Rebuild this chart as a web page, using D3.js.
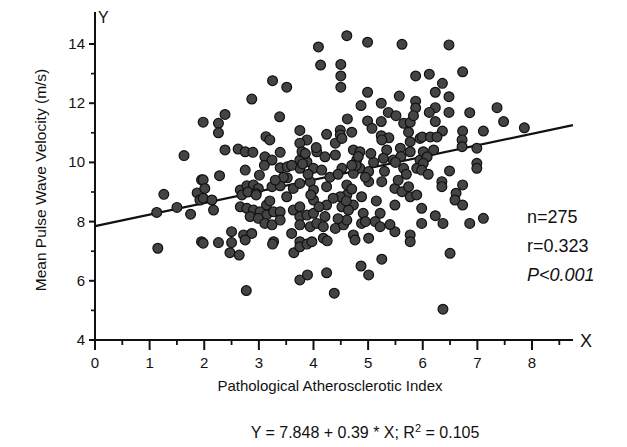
<!DOCTYPE html>
<html lang="en">
<head>
<meta charset="UTF-8">
<title>Mean Pulse Wave Velocity vs Pathological Atherosclerotic Index</title>
<script src="https://d3js.org/d3.v7.min.js"></script>
<style>
  body { margin: 0; background: #fff; }
  text { font-family: "Liberation Sans", Arial, Helvetica, sans-serif; fill: #111; }
</style>
</head>
<body>
<div id="chart"></div>
<script>
// data
const xValues = [1.98,3.25,3.51,2.87,2.38,2.26,2.26,3.38,3.75,3.13,3.88,4.61,4.09,4.99,5.62,4.13,4.50,4.50,4.50,5.87,
  4.99,5.57,4.87,5.24,5.87,5.87,5.37,5.51,5.65,5.77,5.83,4.62,4.99,5.07,5.24,4.24,4.49,4.49,4.70,5.74,
  5.24,5.38,5.95,6.48,6.12,6.73,6.36,6.23,6.48,6.23,6.12,6.48,6.86,7.36,7.48,7.86,6.23,6.36,6.73,7.11,
  5.99,6.14,6.26,6.72,1.63,1.26,1.13,1.50,1.75,1.95,1.87,1.92,1.95,1.15,1.98,3.20,3.75,2.38,2.62,2.75,
  2.89,3.39,3.11,3.24,3.39,3.52,3.75,3.79,3.75,3.88,2.75,3.01,3.52,2.28,1.98,2.01,1.98,2.14,2.17,2.66,
  2.78,2.90,2.99,2.69,3.24,3.39,3.51,3.63,3.75,3.94,3.14,2.66,2.78,2.90,3.02,3.14,3.27,3.39,2.84,2.99,
  3.11,3.24,3.39,3.63,3.75,3.75,3.88,3.75,3.94,2.50,2.72,2.87,3.27,3.75,4.06,4.00,4.15,4.40,4.52,4.40,
  4.21,4.73,4.85,4.79,4.85,4.73,4.52,5.01,5.01,5.25,5.25,5.34,5.28,5.46,5.59,5.77,5.77,5.95,5.89,5.65,
  4.00,4.00,4.24,4.61,4.61,4.49,4.36,4.88,4.24,4.52,4.73,4.64,4.91,5.22,5.49,5.62,5.74,5.77,5.89,5.49,
  5.98,4.00,4.21,4.06,4.18,4.40,4.55,4.61,4.88,5.13,5.22,5.49,5.98,4.18,4.73,5.01,5.77,5.77,6.72,6.99,
  6.01,6.20,6.08,6.01,5.98,6.99,6.99,6.49,6.35,6.35,6.73,6.61,6.59,6.73,6.23,6.37,6.86,7.11,2.26,2.50,
  2.75,2.47,2.64,3.25,3.64,3.75,3.88,3.97,3.75,3.89,2.77,4.25,4.76,4.24,4.38,4.87,5.01,5.25,6.50,6.37,
  4.78,4.82,4.70,2.80,2.95,3.85,3.90,3.80,4.30,4.45,5.10,5.30,5.55,5.15,3.45,3.60,3.20,4.70,4.95,5.60,
  5.70,4.10,3.95,3.10,4.45,4.95,5.40,3.60,2.95,5.05,4.05,5.50,6.10,3.30,4.60];
const yValues = [11.36,12.76,12.54,12.14,11.62,11.32,11.00,11.54,11.08,10.87,10.76,14.28,13.90,14.06,13.99,13.29,13.31,12.92,12.54,12.92,
  12.37,12.24,11.92,12.00,12.07,11.84,11.69,11.58,11.32,11.35,11.58,11.47,11.40,11.15,11.38,10.95,11.09,10.93,11.02,11.02,
  10.90,10.83,10.81,13.97,12.98,13.06,12.67,12.37,12.22,11.85,11.69,11.69,11.68,11.85,11.38,11.17,11.38,11.06,11.06,11.06,
  10.86,10.86,10.86,10.76,10.23,8.92,8.31,8.48,8.25,9.41,8.97,8.73,7.32,7.10,7.27,10.76,10.65,10.42,10.45,10.36,
  10.34,10.34,10.19,10.08,9.82,9.85,10.08,10.36,9.80,10.02,9.74,9.57,9.48,9.55,9.41,9.12,8.79,8.73,8.39,9.07,
  9.21,9.24,9.12,8.90,9.18,9.21,8.84,9.12,9.29,9.35,8.56,8.50,8.45,8.39,8.33,8.22,8.33,8.33,8.17,8.11,
  7.94,7.89,8.05,8.39,8.50,8.17,8.22,7.89,7.83,7.66,7.55,7.60,7.32,7.32,10.36,9.80,9.74,10.65,10.81,10.25,
  10.19,10.42,10.36,10.08,9.80,9.63,9.80,9.69,9.35,9.35,10.76,10.42,10.14,10.08,10.48,10.70,10.36,10.08,9.80,9.80,
  9.07,8.73,9.18,9.24,8.90,8.84,8.79,8.84,8.56,8.50,8.56,8.39,8.28,8.28,9.12,9.01,9.18,8.84,8.90,8.56,
  8.45,8.28,8.17,7.94,7.83,7.77,7.89,8.05,7.94,8.00,7.83,7.66,7.94,7.44,7.55,7.44,7.55,7.32,10.53,10.48,
  10.36,10.42,10.19,9.97,9.74,9.97,9.80,9.71,9.35,9.18,9.24,8.96,8.73,8.56,8.20,7.94,7.94,8.11,7.29,7.29,
  7.38,6.95,6.87,7.24,6.95,7.15,7.24,7.32,6.03,6.20,5.67,7.35,7.38,6.27,5.58,6.50,6.20,6.73,6.93,5.04,
  9.90,10.20,9.90,9.00,8.95,10.30,9.60,9.95,9.50,9.60,10.00,9.70,9.40,8.70,9.50,9.90,8.70,9.10,9.50,10.20,
  9.60,8.50,8.90,9.90,8.10,8.00,7.90,7.60,8.90,10.30,10.50,10.00,9.60,9.40,8.70];

const xTicks = [0,1,2,3,4,5,6,7,8];
const yTicks = [4,6,8,10,12,14];
const fitIntercept = 7.848;
const fitSlope = 0.39;
const statLines = ["n=275", "r=0.323", "P<0.001"];

const points = xValues.map((x, i) => ({ x: x, y: yValues[i] }));

const W = 627, H = 447;
const svg = d3.select("#chart").append("svg")
  .attr("width", W).attr("height", H);

const x = d3.scaleLinear().domain([0, 8]).range([95, 532]);
const y = d3.scaleLinear().domain([4, 14]).range([340, 44]);

// regression line
const xEnd = 8.75;
svg.append("line")
  .attr("x1", x(0)).attr("y1", y(fitIntercept))
  .attr("x2", x(xEnd)).attr("y2", y(fitIntercept + fitSlope * xEnd))
  .attr("stroke", "#111").attr("stroke-width", 2.2);

// dots
svg.selectAll(".dot")
  .data(points)
  .enter().append("circle")
  .attr("class", "dot")
  .attr("cx", d => x(d.x))
  .attr("cy", d => y(d.y))
  .attr("r", 4.9)
  .attr("fill", "#444")
  .attr("stroke", "#111")
  .attr("stroke-width", 1.2);

// x axis
const gx = svg.append("g").attr("transform", "translate(0," + y(4) + ")");
gx.append("line").attr("x1", x(0)).attr("x2", x(xEnd))
  .attr("stroke", "#111").attr("stroke-width", 2);
gx.selectAll(".minor").data(d3.range(0.5, 8.6, 1)).enter().append("line")
  .attr("x1", d => x(d)).attr("x2", d => x(d)).attr("y1", 0).attr("y2", 5)
  .attr("stroke", "#111").attr("stroke-width", 1.8);
gx.selectAll(".major").data(xTicks).enter().append("line")
  .attr("x1", d => x(d)).attr("x2", d => x(d)).attr("y1", 0).attr("y2", 10)
  .attr("stroke", "#111").attr("stroke-width", 2);
gx.selectAll(".lab").data(xTicks).enter().append("text")
  .attr("x", d => x(d)).attr("y", 28)
  .attr("text-anchor", "middle").style("font-size", "15px")
  .text(d => d);
gx.append("text").attr("x", x(xEnd) + 7).attr("y", 7)
  .style("font-size", "18px").text("X");

// y axis
const gy = svg.append("g").attr("transform", "translate(" + x(0) + ",0)");
gy.append("line").attr("y1", y(4)).attr("y2", 12)
  .attr("stroke", "#111").attr("stroke-width", 2);
gy.selectAll(".minor").data(d3.range(5, 14, 2)).enter().append("line")
  .attr("y1", d => y(d)).attr("y2", d => y(d)).attr("x1", 0).attr("x2", -4)
  .attr("stroke", "#111").attr("stroke-width", 1.6);
gy.selectAll(".major").data(yTicks).enter().append("line")
  .attr("y1", d => y(d)).attr("y2", d => y(d)).attr("x1", 0).attr("x2", -6)
  .attr("stroke", "#111").attr("stroke-width", 2);
gy.selectAll(".lab").data(yTicks).enter().append("text")
  .attr("x", -10).attr("y", d => y(d) + 5)
  .attr("text-anchor", "end").style("font-size", "15px")
  .text(d => d);
gy.append("text").attr("x", 3).attr("y", 23)
  .style("font-size", "16px").text("Y");

// axis titles
svg.append("text")
  .attr("transform", "translate(46,180) rotate(-90)")
  .attr("text-anchor", "middle").style("font-size", "15.5px")
  .text("Mean Pulse Wave Velocity (m/s)");
svg.append("text")
  .attr("x", 330).attr("y", 391)
  .attr("text-anchor", "middle").style("font-size", "15px")
  .text("Pathological Atherosclerotic Index");

// equation
const eq = svg.append("text")
  .attr("x", 365).attr("y", 438)
  .attr("text-anchor", "middle").style("font-size", "16px");
eq.append("tspan").text("Y = " + fitIntercept + " + " + fitSlope + " * X; R");
eq.append("tspan").attr("dy", -6).style("font-size", "11px").text("2");
eq.append("tspan").attr("dy", 6).text(" = 0.105");

// stats
svg.selectAll(".stat").data(statLines).enter().append("text")
  .attr("x", 527).attr("y", (d, i) => 223 + i * 29)
  .style("font-size", "18px")
  .style("font-style", (d, i) => i === 2 ? "italic" : "normal")
  .text(d => d);
</script>
</body>
</html>
